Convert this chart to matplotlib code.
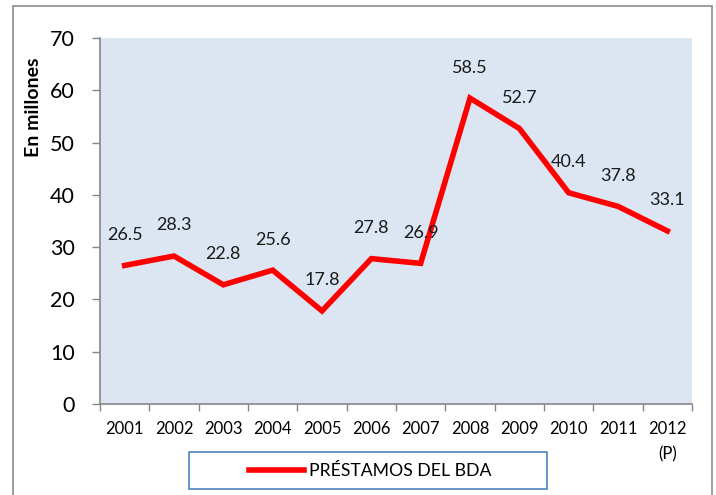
import matplotlib
matplotlib.use("Agg")
import matplotlib.pyplot as plt
from matplotlib.patches import Rectangle

years = ["2001", "2002", "2003", "2004", "2005", "2006", "2007", "2008", "2009", "2010", "2011", "2012\n(P)"]
values = [26.5, 28.3, 22.8, 25.6, 17.8, 27.8, 26.9, 58.5, 52.7, 40.4, 37.8, 33.1]
series_name = "PRÉSTAMOS DEL BDA"

plt.rcParams['font.family'] = ['Lato', 'DejaVu Sans']

W, H = 716, 495
fig = plt.figure(figsize=(W/100, H/100), dpi=100)
fig.patch.set_facecolor('white')

# outer chart border
fig.add_artist(Rectangle((13/W, -0.05), (712-13)/W, 1 - 6/H + 0.05, transform=fig.transFigure,
                         fill=False, edgecolor='#8c8c8c', linewidth=1.2))

left, right, top, bottom = 100/W, 692/W, 1-38/H, 1-404/H
ax = fig.add_axes([left, bottom, right-left, top-bottom])
ax.set_facecolor('#dce6f2')

x = list(range(len(years)))
line, = ax.plot(x, values, color='#ff0000', linewidth=4.0, solid_joinstyle='miter', label=series_name)
for xi, v in zip(x, values):
    ax.annotate(f"{v:.1f}", (xi, v), xytext=(0, 22), textcoords='offset points',
                ha='center', va='center', fontsize=13, color='#1a1a1a')

ax.set_xlim(-0.5, len(years)-0.5)
ax.set_ylim(0, 70)
ax.set_yticks(range(0, 71, 10))
ax.tick_params(axis='y', labelsize=15.5, length=6, color='#868686', width=1, pad=12)
ax.set_xticks(x)
ax.set_xticklabels(years, fontsize=12, linespacing=1.75)
ax.set_xticks([i - 0.5 for i in range(len(years)+1)], minor=True)
ax.tick_params(axis='x', which='major', length=0, pad=12)
ax.tick_params(axis='x', which='minor', length=5, color='#868686', width=1)
for s in ['top', 'right']:
    ax.spines[s].set_visible(False)
for s in ['left', 'bottom']:
    ax.spines[s].set_color('#868686')
    ax.spines[s].set_linewidth(1.2)

ax.set_ylabel("En millones", fontsize=14, fontweight='bold')
ax.yaxis.set_label_coords(-0.098, 0.81)

# legend
fig.add_artist(Rectangle((189/W, 1-489/H), (547-189)/W, (489-452)/H, transform=fig.transFigure,
                         fill=False, edgecolor='#4f81bd', linewidth=1.2))
fig.legend(handles=[line], loc='center', bbox_to_anchor=(370.5/W, 1-471/H), frameon=False,
           fontsize=12.7, handlelength=3.1, handletextpad=0.3)

fig.savefig("out.png", dpi=100)
